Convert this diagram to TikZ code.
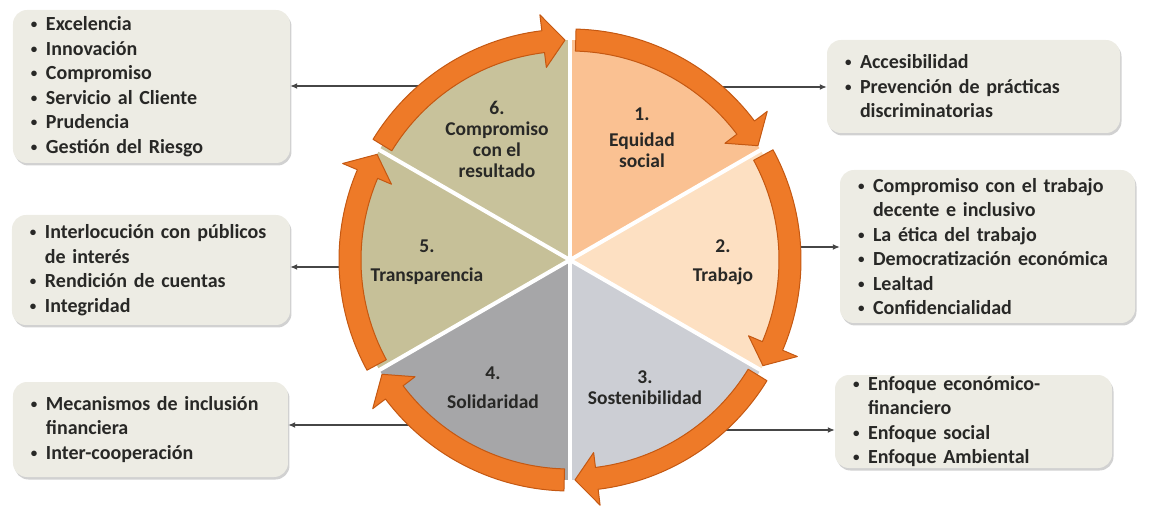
\documentclass[tikz,border=0pt]{standalone}
\usepackage{fontspec}
\setmainfont{Carlito}
\usetikzlibrary{arrows.meta,shadows}
\definecolor{ringorange}{RGB}{238,122,40}
\definecolor{ringdark}{RGB}{196,88,18}
\definecolor{wedgeA}{RGB}{250,193,146}
\definecolor{wedgeB}{RGB}{253,224,194}
\definecolor{wedgeC}{RGB}{204,206,212}
\definecolor{wedgeD}{RGB}{166,166,168}
\definecolor{wedgeE}{RGB}{198,192,152}
\definecolor{wedgeF}{RGB}{200,194,155}
\definecolor{boxfill}{RGB}{237,236,228}
\definecolor{textdark}{RGB}{40,40,38}
\definecolor{linegray}{RGB}{70,70,70}
\newcommand{\bitem}{\makebox[15pt][l]{\raisebox{2pt}{\fontsize{13}{13}\selectfont\textbullet}}}
\newcommand{\bcont}{\hspace*{15pt}}
\tikzset{
  infobox/.style={rounded corners=14pt, fill=boxfill, inner xsep=18pt, inner ysep=0pt,
    align=left, text=textdark, font=\fontsize{20}{24.5}\selectfont\bfseries,
    drop shadow={shadow xshift=1.5pt, shadow yshift=-2.5pt, opacity=.3, fill=black!60}},
  wlabel/.style={align=center, text=textdark, font=\fontsize{19.5}{21}\selectfont\bfseries},
  ring/.style={fill=ringorange, draw=ringdark, line width=1pt, line join=round},
  link/.style={-{Latex[length=7pt,width=6pt]}, line width=1.3pt, draw=linegray}
}
\begin{document}
\begin{tikzpicture}[x=1pt,y=1pt]
\useasboundingbox (-570,-251) rectangle (595,260);
% wedges
\foreach \s/\col in {90/wedgeA,30/wedgeB,-30/wedgeC,-90/wedgeD,-150/wedgeE,-210/wedgeF}
  \fill[\col] (0,0) -- (\s:220pt) arc[start angle=\s, end angle=\s-60, radius=220pt] -- cycle;
\foreach \s in {90,30,-30,-90,-150,-210}
  \draw[white, line width=4pt] (0,0) -- (\s:240pt);
% links to the boxes
\node[infobox, text width=241pt, minimum height=153pt] (b6) at (-418.5,173.5)
  {\bitem Excelencia\\ \bitem Innovación\\ \bitem Compromiso\\ \bitem Servicio al Cliente\\ \bitem Prudencia\\ \bitem Gestión del Riesgo};
\node[infobox, text width=257pt, minimum height=93pt] (b1) at (403.5,173.5)
  {\bitem Accesibilidad\\ \bitem Prevención de prácticas\\ \bcont discriminatorias};
\node[infobox, text width=259pt, minimum height=153pt] (b2) at (417.5,13.5)
  {\bitem Compromiso  con el trabajo\\ \bcont decente e inclusivo\\ \bitem La ética del trabajo\\ \bitem Democratización  económica\\ \bitem Lealtad\\ \bitem Confidencialidad};
\node[infobox, text width=241pt, minimum height=93pt] (b3) at (403.5,-161.5)
  {\bitem Enfoque económico-\\ \bcont financiero\\ \bitem Enfoque social\\ \bitem Enfoque Ambiental};
\node[infobox, text width=239pt, minimum height=95pt] (b4) at (-419.5,-169.5)
  {\bitem Mecanismos de inclusión\\ \bcont financiera\\ \bitem Inter-cooperación};
\node[infobox, text width=242pt, minimum height=110pt] (b5) at (-419,-10)
  {\bitem Interlocución con públicos\\ \bcont de interés\\ \bitem Rendición de cuentas\\ \bitem Integridad};
\coordinate (p6) at (-150,174);
\coordinate (p1) at (152,173);
\coordinate (p2) at (226,13);
\coordinate (p3) at (155,-170);
\coordinate (p4) at (-160,-165);
\coordinate (p5) at (-226,-7);
\draw[link] (p6) -- (p6 -| b6.east);
\draw[link] (p1) -- (p1 -| b1.west);
\draw[link] (p2) -- (p2 -| b2.west);
\draw[link] (p3) -- (p3 -| b3.west);
\draw[link] (p4) -- (p4 -| b4.east);
\draw[link] (p5) -- (p5 -| b5.east);
% orange ring of arrows
\foreach \s in {90,30,-30,-90,-150,-210}{
  \pgfmathsetmacro\ta{\s-1.5}
  \pgfmathsetmacro\hb{\s-60+7}
  \pgfmathsetmacro\tp{\s-60+1.3}
  \filldraw[ring] (\ta:209pt) arc[start angle=\ta, end angle=\hb, radius=209pt]
    -- (\hb:194pt) -- (\tp:220pt) -- (\hb:247pt) -- (\hb:231pt)
    arc[start angle=\hb, end angle=\ta, radius=231pt] -- cycle;
}
% wedge labels
\node[wlabel] (w1) at (72,122.5) {1.\\[5pt]Equidad\\social};
\node[wlabel] (w2) at (153,-2) {2.\\[8pt]Trabajo};
\node[wlabel] (w3) at (75,-127.5) {3.\\Sostenibilidad};
\node[wlabel] (w4) at (-77,-127.5) {4.\\[8pt]Solidaridad};
\node[wlabel] (w5) at (-143,-2) {5.\\[8pt]Transparencia};
\node[wlabel] (w6) at (-73,121) {6.\\Compromiso\\con el\\resultado};
\end{tikzpicture}
\end{document}
